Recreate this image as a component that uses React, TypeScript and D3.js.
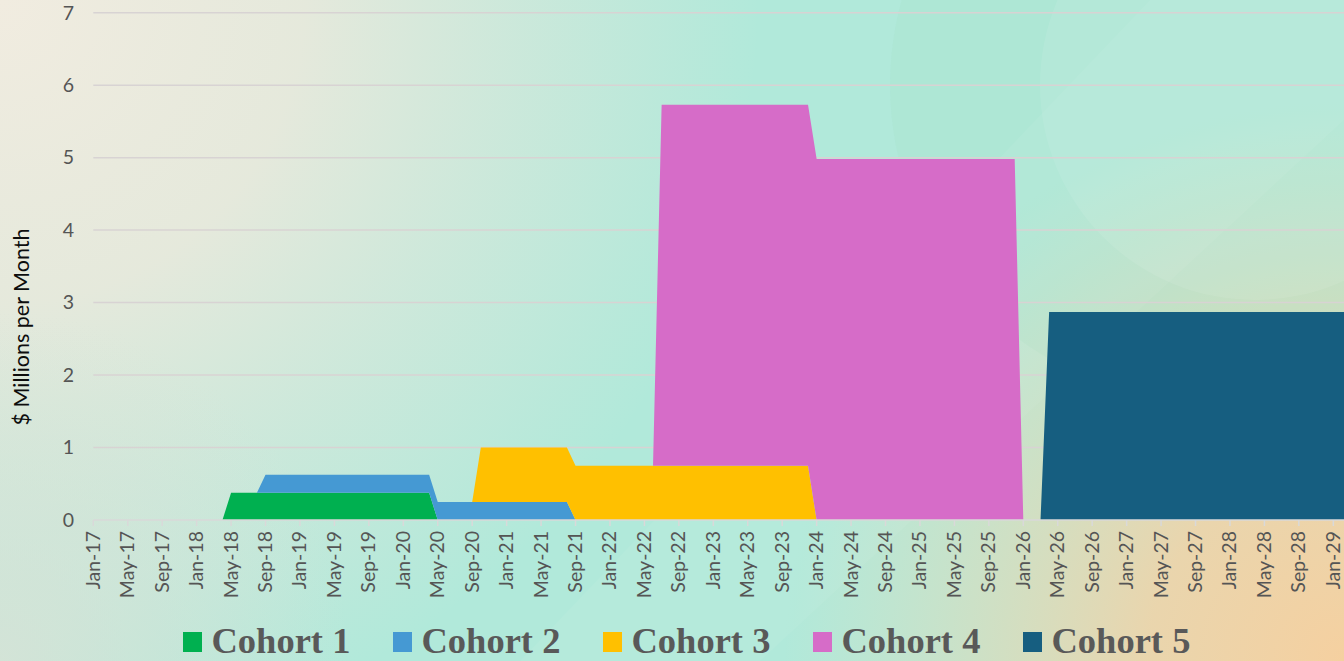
import React from "react";
import * as d3 from "d3";

const W = 1344;
const H = 661;

// Month index 0 = Jan-17
const TICK_LABELS = [
  "Jan-17", "May-17", "Sep-17", "Jan-18", "May-18", "Sep-18", "Jan-19", "May-19", "Sep-19",
  "Jan-20", "May-20", "Sep-20", "Jan-21", "May-21", "Sep-21", "Jan-22", "May-22", "Sep-22",
  "Jan-23", "May-23", "Sep-23", "Jan-24", "May-24", "Sep-24", "Jan-25", "May-25", "Sep-25",
  "Jan-26", "May-26", "Sep-26", "Jan-27", "May-27", "Sep-27", "Jan-28", "May-28", "Sep-28",
  "Jan-29",
];
const TICK_STEP = 4; // months between labels
const LAST_MONTH = 148;

const Y_TICKS = [0, 1, 2, 3, 4, 5, 6, 7];

const SERIES = ["Cohort 1", "Cohort 2", "Cohort 3", "Cohort 4", "Cohort 5"];
const COLORS = ["#00b050", "#4599d3", "#ffc000", "#d66cc8", "#165e80"];

// runs: [first month index, last month index, $M per month]
const COHORT1 = [[16, 39, 0.375]];
const COHORT2 = [[20, 55, 0.25]];
const COHORT3 = [[45, 83, 0.75]];
const COHORT4 = [[66, 107, 4.98]];
const COHORT5 = [[111, LAST_MONTH, 2.87]];
const RUNS = [COHORT1, COHORT2, COHORT3, COHORT4, COHORT5];

function valueAt(runs: number[][], i: number) {
  for (const [a, b, v] of runs) if (i >= a && i <= b) return v;
  return 0;
}

const rows = d3.range(0, LAST_MONTH + 1).map((i) => {
  const r: any = { i };
  SERIES.forEach((s, k) => (r[s] = valueAt(RUNS[k], i)));
  return r;
});

export default function App() {
  const x = d3.scaleLinear().domain([0, 144]).range([93.3, 1333.3]);
  const y = d3.scaleLinear().domain([0, 7]).range([520, 12.7]);
  const stacked = d3.stack().keys(SERIES)(rows as any);
  const area = d3
    .area<any>()
    .x((d) => x(d.data.i))
    .y0((d) => y(d[0]))
    .y1((d) => y(d[1]));

  const tickFont = "Lato, 'Open Sans', sans-serif";
  const legendX0 = 183;
  const legendStep = 210;

  return (
    <svg
      width={W}
      height={H}
      style={{ position: "absolute", left: 0, top: 0, display: "block" }}
    >
      <defs>
        <radialGradient id="tl" cx="0" cy="0" r="760" gradientUnits="userSpaceOnUse">
          <stop offset="0" stopColor="#f1ece0" stopOpacity="1" />
          <stop offset="0.4" stopColor="#ebe9dc" stopOpacity="0.9" />
          <stop offset="1" stopColor="#e6e6da" stopOpacity="0" />
        </radialGradient>
        <radialGradient id="br" cx="1344" cy="661" r="560" gradientUnits="userSpaceOnUse">
          <stop offset="0" stopColor="#f5d0a0" stopOpacity="1" />
          <stop offset="0.35" stopColor="#f0d3a8" stopOpacity="0.9" />
          <stop offset="1" stopColor="#e8dcb8" stopOpacity="0" />
        </radialGradient>
        <radialGradient id="bl" cx="0" cy="661" r="350" gradientUnits="userSpaceOnUse">
          <stop offset="0" stopColor="#d9e2d6" stopOpacity="0.8" />
          <stop offset="1" stopColor="#d9e2d6" stopOpacity="0" />
        </radialGradient>
      </defs>
      <rect x={0} y={0} width={W} height={H} fill="#b1e9da" />
      <rect x={0} y={0} width={W} height={H} fill="url(#tl)" />
      <rect x={0} y={0} width={W} height={H} fill="url(#bl)" />
      <rect x={0} y={0} width={W} height={H} fill="url(#br)" />
      <circle cx={1205} cy={85} r={315} fill="#8fd3b4" opacity={0.1} />
      <circle cx={1255} cy={85} r={215} fill="#ffffff" opacity={0.08} />
      <polygon points="520,661 1150,0 1344,0 1344,120 760,661" fill="#ffffff" opacity={0.05} />

      {/* gridlines */}
      {Y_TICKS.filter((t) => t > 0).map((t) => (
        <line key={t} x1={93.3} x2={W} y1={y(t)} y2={y(t)} stroke="#d8d3d3" strokeWidth={1.5} />
      ))}

      {/* areas */}
      {stacked.map((s, k) => (
        <path key={SERIES[k]} d={area(s as any) || ""} fill={COLORS[k]} />
      ))}

      {/* x axis */}
      <line x1={93.3} x2={W} y1={y(0)} y2={y(0)} stroke="#d9d9d9" strokeWidth={1.5} />
      {TICK_LABELS.map((lab, j) => {
        const tx = x(j * TICK_STEP);
        return (
          <g key={lab}>
            <line x1={tx} x2={tx} y1={y(0)} y2={y(0) + 6} stroke="#d9d9d9" strokeWidth={1.5} />
            <text
              transform={`translate(${tx + 6.5},531) rotate(-90)`}
              textAnchor="end"
              fontFamily={tickFont}
              fontSize={19.5}
              fill="#555555"
            >
              {lab}
            </text>
          </g>
        );
      })}

      {/* y ticks */}
      {Y_TICKS.map((t) => (
        <text
          key={t}
          x={74}
          y={y(t)}
          dy="0.35em"
          textAnchor="end"
          fontFamily={tickFont}
          fontSize={19.5}
          fill="#555555"
        >
          {t}
        </text>
      ))}

      {/* y title */}
      <text
        transform="translate(29,327) rotate(-90)"
        textAnchor="middle"
        fontFamily={tickFont}
        fontSize={21.5}
        fill="#0d0d0d"
      >
        $ Millions per Month
      </text>

      {/* legend */}
      {SERIES.map((s, k) => (
        <g key={s} transform={`translate(${legendX0 + legendStep * k},0)`}>
          <rect x={0} y={632} width={19} height={20} fill={COLORS[k]} />
          <text
            x={28.5}
            y={653}
            fontFamily="'Liberation Serif', 'Times New Roman', serif"
            fontWeight="bold"
            fontSize={36.5}
            fill="#595959"
          >
            {s}
          </text>
        </g>
      ))}
    </svg>
  );
}
